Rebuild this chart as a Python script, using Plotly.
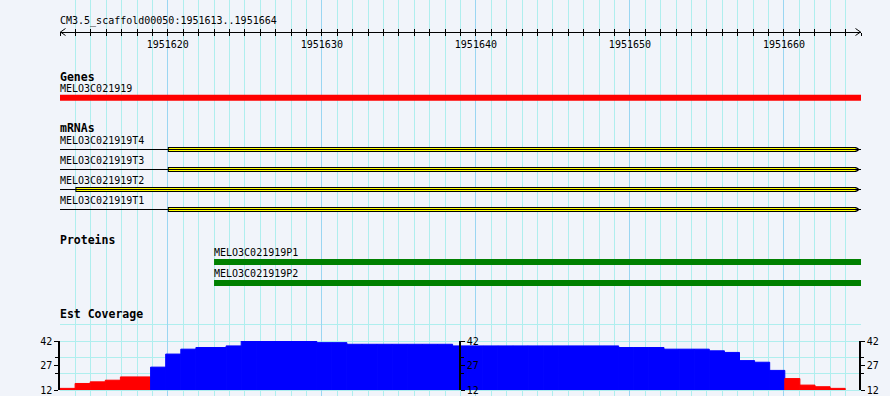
import plotly.graph_objects as go

# ---------------- data ----------------
view_start = 1951613
view_end = 1951665          # end of base 1951664
ref_label = "CM3.5_scaffold00050:1951613..1951664"
ruler_ticks = [1951620, 1951630, 1951640, 1951650, 1951660]
ruler_ticktext = ["1951620", "1951630", "1951640", "1951650", "1951660"]

gene_names = ["MELO3C021919"]
gene_starts = [1951613]
gene_ends = [1951665]

mrna_names = ["MELO3C021919T4", "MELO3C021919T3", "MELO3C021919T2", "MELO3C021919T1"]
mrna_starts = [1951613, 1951613, 1951613, 1951613]
mrna_cds_starts = [1951620, 1951620, 1951614, 1951620]
mrna_ends = [1951665, 1951665, 1951665, 1951665]

protein_names = ["MELO3C021919P1", "MELO3C021919P2"]
protein_starts = [1951623, 1951623]
protein_ends = [1951665, 1951665]

coverage = [13, 16, 17, 18, 20, 20, 26, 34, 37, 38, 38, 39,
            42, 42, 42, 42, 42, 41, 41,
            40, 40, 40, 40, 40, 40, 40,
            39, 39, 39, 39, 39, 39, 39, 39, 39, 39, 39,
            38, 38, 38, 37, 37, 37, 36, 35, 30, 29, 24,
            19, 15, 14, 13]
cov_axis_range = [12, 42]
cov_ticks = [12, 27, 42]
cov_minor_ticks = [22, 32]
cov_grid_values = [12, 22, 32, 42, 52]
cov_low_threshold = 22

# ---------------- style / layout ----------------
W, H = 890, 396
ML, MR = 60, 29
plot_w = W - ML - MR
px_per_bp = plot_w / (view_end - view_start)
cov_bin_px = 15.1
cov_bot_px, cov_top_px = 390, 341

BG = "#F1F4FA"
GRID_MINOR = "#AFEEEE"
GRID_MAJOR = "#9AD6F2"
CLEAR = "rgba(0,0,0,0)"
FONT = "DejaVu Sans Mono"
small = dict(family=FONT, size=10, color="black")
bold = dict(family=FONT, size=11.5, color="black")

ruler_y = 32
title_y = 21.2
gene_y, gene_label_y = 97.7, 88
mrna_y = [149.5, 169.5, 189.5, 209.5]
mrna_label_y = [140.7, 160.7, 180.7, 200.7]
prot_y = [262, 283]
prot_label_y = [252.5, 273.3]
track_titles = ["Genes", "mRNAs", "Proteins", "Est Coverage"]
track_title_y = [76.5, 128, 240, 313.5]


def cov_px(v):
    return cov_bot_px - (v - cov_axis_range[0]) * (cov_bot_px - cov_top_px) / (cov_axis_range[1] - cov_axis_range[0])


fig = go.Figure()

# gene
fig.add_trace(go.Bar(orientation="h", base=gene_starts,
                     x=[e - s for s, e in zip(gene_starts, gene_ends)],
                     y=[gene_y] * len(gene_starts), width=6,
                     marker=dict(color="#FF0000", line=dict(width=0)),
                     xaxis="x", yaxis="y", showlegend=False))

# mRNA thin lines
lx, ly = [], []
for s, e, yy in zip(mrna_starts, mrna_ends, mrna_y):
    lx += [s, e, None]
    ly += [yy, yy, None]
fig.add_trace(go.Scatter(x=lx, y=ly, mode="lines", line=dict(color="black", width=1),
                         xaxis="x", yaxis="y", showlegend=False))
# mRNA CDS boxes: black frame + yellow fill
arrow_bp = 4.3 / px_per_bp
one_px = 1 / px_per_bp
fig.add_trace(go.Bar(orientation="h", base=mrna_cds_starts,
                     x=[e - arrow_bp - s for s, e in zip(mrna_cds_starts, mrna_ends)],
                     y=mrna_y, width=5,
                     marker=dict(color="black", line=dict(width=0)),
                     xaxis="x", yaxis="y", showlegend=False))
fig.add_trace(go.Bar(orientation="h", base=[s + one_px for s in mrna_cds_starts],
                     x=[e - arrow_bp - s - 2 * one_px for s, e in zip(mrna_cds_starts, mrna_ends)],
                     y=mrna_y, width=3,
                     marker=dict(color="#FFFF00", line=dict(width=0)),
                     xaxis="x", yaxis="y", showlegend=False))
fig.add_trace(go.Scatter(x=[e - arrow_bp + 1.2 * one_px for e in mrna_ends], y=mrna_y,
                         mode="markers",
                         marker=dict(symbol="triangle-right", size=4, color="black"),
                         xaxis="x", yaxis="y", showlegend=False))

# proteins
fig.add_trace(go.Bar(orientation="h", base=protein_starts,
                     x=[e - s for s, e in zip(protein_starts, protein_ends)],
                     y=prot_y, width=6,
                     marker=dict(color="#008000", line=dict(width=0)),
                     xaxis="x", yaxis="y", showlegend=False))

# coverage
cov_colors = ["#FF0000" if v < cov_low_threshold else "#0000FF" for v in coverage]
fig.add_trace(go.Bar(x=[i + 0.5 for i in range(len(coverage))], y=coverage, width=1,
                     marker=dict(color=cov_colors, line=dict(width=1, color=cov_colors)),
                     xaxis="x2", yaxis="y2", showlegend=False))
# dummies for extra axes
for xa, ya in [("x2", "y3"), ("x2", "y4"), ("x3", "y"), ("x4", "y"), ("x5", "y")]:
    fig.add_trace(go.Scatter(x=[None], y=[None], xaxis=xa, yaxis=ya, showlegend=False))

# annotations
ann = []
ann.append(dict(text=ref_label, xref="paper", x=0, y=title_y))
for t, yy in zip(track_titles, track_title_y):
    ann.append(dict(text="<b>" + t + "</b>", xref="paper", x=0, y=yy, font=bold))
for n, yy in zip(gene_names, [gene_label_y]):
    ann.append(dict(text=n, xref="paper", x=0, y=yy))
for n, yy in zip(mrna_names, mrna_label_y):
    ann.append(dict(text=n, xref="paper", x=0, y=yy))
for n, s, yy in zip(protein_names, protein_starts, prot_label_y):
    ann.append(dict(text=n, xref="x", x=s, y=yy))
annotations = []
for a in ann:
    d = dict(yref="y", xanchor="left", yanchor="middle", showarrow=False,
             font=small, borderpad=0, borderwidth=0)
    d.update(a)
    annotations.append(d)

ruler_pos = 1 - ruler_y / H
cov_dom = [1 - cov_bot_px / H, 1 - cov_top_px / H]
cov_axis_common = dict(range=cov_axis_range, tickvals=cov_ticks, ticks="outside", ticklen=4,
                       tickcolor="black", showline=True, linecolor="black", linewidth=1.5,
                       showgrid=False, gridcolor=CLEAR, zeroline=False, tickfont=small,
                       ticklabelstandoff=0, automargin=False,
                       minor=dict(tickvals=cov_minor_ticks, ticks="outside", ticklen=3,
                                  tickcolor="black", showgrid=False, gridcolor=CLEAR))

fig.update_layout(
    width=W, height=H, margin=dict(l=ML, r=MR, t=0, b=0, pad=0, autoexpand=False),
    paper_bgcolor=BG, plot_bgcolor=CLEAR,
    hovermode=False, barmode="overlay", showlegend=False,
    annotations=annotations,
    # every-base grid (light)
    xaxis=dict(domain=[0, 1], range=[view_start, view_end], anchor="y", automargin=False,
               tickmode="linear", tick0=view_start, dtick=1, showgrid=True,
               gridcolor=GRID_MINOR, gridwidth=1,
               showticklabels=False, ticks="", zeroline=False, showline=False),
    # every-10-bases grid (stronger)
    xaxis5=dict(overlaying="x", anchor="y", range=[view_start, view_end], automargin=False,
                tickvals=ruler_ticks, showgrid=True, gridcolor=GRID_MAJOR, gridwidth=1,
                showticklabels=False, ticks="", zeroline=False, showline=False),
    yaxis=dict(domain=[0, 1], range=[H, 0], anchor="x", automargin=False,
               tickvals=[cov_px(v) for v in cov_grid_values], showgrid=True,
               gridcolor=GRID_MINOR, gridwidth=1, showticklabels=False, ticks="",
               zeroline=False, showline=False),
    xaxis2=dict(domain=[0, 1], range=[0, plot_w / cov_bin_px], anchor="y2", visible=False,
                showgrid=False, gridcolor=CLEAR, automargin=False),
    yaxis2=dict(domain=cov_dom, anchor="x2", side="left", **cov_axis_common),
    yaxis3=dict(overlaying="y2", anchor="free", position=(460 - ML) / plot_w, side="right",
                **cov_axis_common),
    yaxis4=dict(overlaying="y2", anchor="free", position=(860 - ML) / plot_w, side="right",
                **cov_axis_common),
    xaxis3=dict(overlaying="x", anchor="free", position=ruler_pos, side="bottom",
                range=[view_start, view_end], tickvals=ruler_ticks, automargin=False,
                ticktext=ruler_ticktext, ticks="outside", ticklen=3, tickcolor="black",
                showline=True, linecolor="black", linewidth=1, showgrid=False,
                gridcolor=CLEAR, zeroline=False, tickfont=small, ticklabelstandoff=0,
                minor=dict(tick0=view_start, dtick=1, ticks="outside", ticklen=3,
                           tickcolor="black", showgrid=False, gridcolor=CLEAR)),
    xaxis4=dict(overlaying="x", anchor="free", position=ruler_pos, side="bottom",
                range=[view_start, view_end], tickvals=ruler_ticks, ticks="inside", ticklen=3,
                tickcolor="black", showline=False, showticklabels=False, showgrid=False,
                gridcolor=CLEAR, zeroline=False, automargin=False,
                minor=dict(tick0=view_start, dtick=1, ticks="inside", ticklen=3,
                           tickcolor="black", showgrid=False, gridcolor=CLEAR)),
    shapes=[
        dict(type="path", xref="x", yref="y", xsizemode="pixel", ysizemode="pixel",
             xanchor=view_start, yanchor=ruler_y, path="M 5.5,3.5 L 0.5,0 L 5.5,-3.5",
             line=dict(color="black", width=1)),
        dict(type="path", xref="x", yref="y", xsizemode="pixel", ysizemode="pixel",
             xanchor=view_end, yanchor=ruler_y, path="M -5.5,3.5 L -0.5,0 L -5.5,-3.5",
             line=dict(color="black", width=1)),
    ],
)

fig.write_html("out.html", config={"displayModeBar": False},
               post_script="document.body.style.margin='0px';document.body.style.padding='0px';")
